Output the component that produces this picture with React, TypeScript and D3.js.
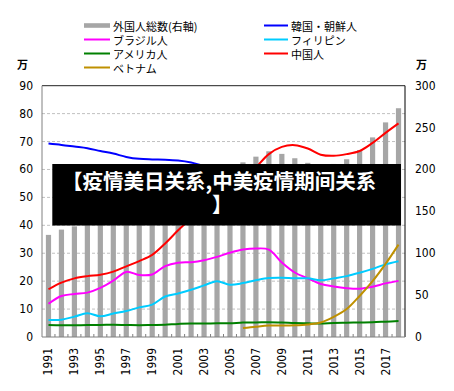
import * as d3 from "d3";
import React from "react";

const years = d3.range(1991, 2019).map(String);

// 万人
const total = [121.9, 128.2, 132.1, 135.4, 136.2, 141.5, 148.3, 151.2, 155.6, 168.6, 177.8, 185.2, 191.6, 197.4,
  201.2, 208.5, 215.3, 221.7, 218.6, 213.4, 207.9, 203.4, 206.6, 212.2, 223.2, 238.3, 256.2, 273.1];
const korea = [69.3, 68.8, 68.2, 67.6, 66.6, 65.7, 64.5, 63.8, 63.6, 63.5, 63.2, 62.5, 61.3, 60.7,
  59.8, 59.8, 59.3, 58.9, 57.8, 56.5, 54.5, 53.0, 51.9, 50.1, 49.1, 48.5, 48.1, 47.9];
const brazil = [11.9, 14.7, 15.4, 15.9, 17.6, 20.2, 23.3, 22.2, 22.4, 25.4, 26.6, 26.8, 27.5, 28.7,
  30.2, 31.3, 31.7, 31.3, 26.7, 23.1, 21.0, 19.0, 18.1, 17.5, 17.3, 18.0, 19.2, 20.1];
const philippines = [6.1, 6.2, 7.3, 8.5, 7.4, 8.4, 9.3, 10.6, 11.6, 14.5, 15.6, 16.9, 18.5, 20.0,
  18.7, 19.3, 20.3, 21.1, 21.2, 21.0, 21.0, 20.3, 21.0, 21.8, 23.0, 24.4, 26.0, 27.1];
const usa = [4.3, 4.2, 4.2, 4.3, 4.3, 4.4, 4.3, 4.2, 4.3, 4.4, 4.7, 4.8, 4.8, 4.9,
  4.9, 5.2, 5.2, 5.3, 5.2, 5.0, 4.9, 4.8, 5.0, 5.1, 5.2, 5.3, 5.5, 5.7];
const china = [17.1, 19.5, 21.0, 21.8, 22.3, 23.4, 25.3, 27.2, 29.4, 33.5, 38.2, 42.5, 46.3, 48.8,
  52.0, 56.0, 60.7, 65.5, 68.1, 68.7, 67.5, 65.3, 64.9, 65.5, 66.6, 69.5, 73.1, 76.5];
const vietnam = [null, null, null, null, null, null, null, null, null, null, null, null, null, null,
  null, 3.2, 3.7, 4.1, 4.1, 4.2, 4.5, 5.2, 7.2, 10.0, 14.7, 20.0, 26.2, 33.1];

const leftTicks = [0, 10, 20, 30, 40, 50, 60, 70, 80, 90];
const rightTicks = [0, 50, 100, 150, 200, 250, 300];
const xLabelYears = years.filter((y, i) => i % 2 === 0);

const series = [
  { name: "韓国・朝鮮人", values: korea, color: "#0000ff" },
  { name: "ブラジル人", values: brazil, color: "#ff00ff" },
  { name: "フィリピン", values: philippines, color: "#00ccff" },
  { name: "アメリカ人", values: usa, color: "#008000" },
  { name: "ベトナム", values: vietnam, color: "#bf9000" },
  { name: "中国人", values: china, color: "#ff0000" },
];

const legendLeft = ["外国人総数(右軸)", "ブラジル人", "アメリカ人", "ベトナム"];
const legendRight = ["韓国・朝鮮人", "フィリピン", "中国人"];

const banner = ["【疫情美日关系,中美疫情期间关系", "】"];

export default function App() {
  const width = 454, height = 391;
  const plot = { left: 42, right: 405, top: 85.7, bottom: 337 };

  const x = d3.scaleBand().domain(years).range([plot.left, plot.right]);
  const y = d3.scaleLinear().domain([0, 90]).range([plot.bottom, plot.top]);
  const yR = d3.scaleLinear().domain([0, 300]).range([plot.bottom, plot.top]);
  const cx = (d: string) => (x(d) as number) + x.bandwidth() / 2;
  const barW = 5.2;

  const line = d3.line<number | null>()
    .defined((d) => d !== null)
    .x((d, i) => cx(years[i]))
    .y((d) => y(d as number))
    .curve(d3.curveCatmullRom.alpha(0.5));

  const colorOf = (n: string) => {
    if (n === "外国人総数(右軸)") return "#a6a6a6";
    return series.find((s) => s.name === n)!.color;
  };

  const numFont = "'Liberation Sans Narrow', 'DejaVu Sans Condensed', sans-serif";
  const jpFont = "'Noto Sans CJK JP', sans-serif";

  return (
    <svg width={width} height={height} style={{ position: "absolute", left: 0, top: 0, background: "#fff" }}>
      <rect width={width} height={height} fill="#fff" />

      {/* legend */}
      {legendLeft.map((n, i) => (
        <g key={n} transform={`translate(84,${25.5 + i * 14})`}>
          <line x1={0} x2={26} y1={0} y2={0} stroke={colorOf(n)} strokeWidth={i === 0 ? 4.6 : 2} />
          <text x={29} y={0} dominantBaseline="central" fontSize={11} fontFamily={jpFont} fill="#000">{n}</text>
        </g>
      ))}
      {legendRight.map((n, i) => (
        <g key={n} transform={`translate(264,${25.5 + i * 14})`}>
          <line x1={0} x2={24} y1={0} y2={0} stroke={colorOf(n)} strokeWidth={2} />
          <text x={27} y={0} dominantBaseline="central" fontSize={11} fontFamily={jpFont} fill="#000">{n}</text>
        </g>
      ))}

      <text x={22.5} y={64} textAnchor="middle" dominantBaseline="central" fontSize={11} fontWeight="bold" fontFamily={jpFont}>万</text>
      <text x={421.5} y={64} textAnchor="middle" dominantBaseline="central" fontSize={11} fontWeight="bold" fontFamily={jpFont}>万</text>

      {/* grid */}
      {leftTicks.filter((t) => t > 0 && t < 90).map((t) => (
        <line key={t} x1={plot.left} x2={plot.right} y1={y(t)} y2={y(t)} stroke="#c0c0c0" strokeDasharray="3,2" />
      ))}

      {/* bars */}
      {years.map((yr, i) => (
        <rect key={yr} x={cx(yr) - barW / 2} y={yR(total[i])} width={barW} height={plot.bottom - yR(total[i])} fill="#a6a6a6" />
      ))}

      {/* axes */}
      <line x1={plot.left} x2={plot.right} y1={plot.top} y2={plot.top} stroke="#222" />
      <line x1={plot.right} x2={plot.right} y1={plot.top} y2={plot.bottom} stroke="#000" />
      <line x1={plot.left} x2={plot.left} y1={plot.top} y2={plot.bottom} stroke="#808080" />
      <line x1={plot.left} x2={plot.right} y1={plot.bottom} y2={plot.bottom} stroke="#808080" />
      {years.slice(1).map((yr) => (
        <line key={yr} x1={x(yr)} x2={x(yr)} y1={plot.bottom - 3} y2={plot.bottom} stroke="#808080" />
      ))}

      {leftTicks.map((t) => (
        <text key={t} x={33} y={y(t)} textAnchor="end" dominantBaseline="central" fontSize={12} fontFamily={numFont} fill="#000">{t}</text>
      ))}
      {rightTicks.map((t) => (
        <text key={t} x={415} y={yR(t)} textAnchor="start" dominantBaseline="central" fontSize={12} fontFamily={numFont} fill="#000">{t}</text>
      ))}
      {xLabelYears.map((yr) => (
        <text key={yr} transform={`translate(${cx(yr)},${plot.bottom + 11}) rotate(-90)`} textAnchor="end" dominantBaseline="central" fontSize={12} fontFamily={numFont} fill="#000">{yr}</text>
      ))}

      {/* lines */}
      {series.map((s) => (
        <path key={s.name} d={line(s.values) || ""} fill="none" stroke={s.color} strokeWidth={2} strokeLinejoin="round" />
      ))}

      {/* overlay banner */}
      <rect x={52.3} y={164} width={348.7} height={61.5} fill="#000" />
      <text x={62} y={188.5} fontSize={20.5} fontWeight="bold" fontFamily="'Noto Sans CJK SC', sans-serif" fill="#fff">{banner[0]}</text>
      <text x={212} y={212} fontSize={20.5} fontWeight="bold" fontFamily="'Noto Sans CJK SC', sans-serif" fill="#fff">{banner[1]}</text>
    </svg>
  );
}
